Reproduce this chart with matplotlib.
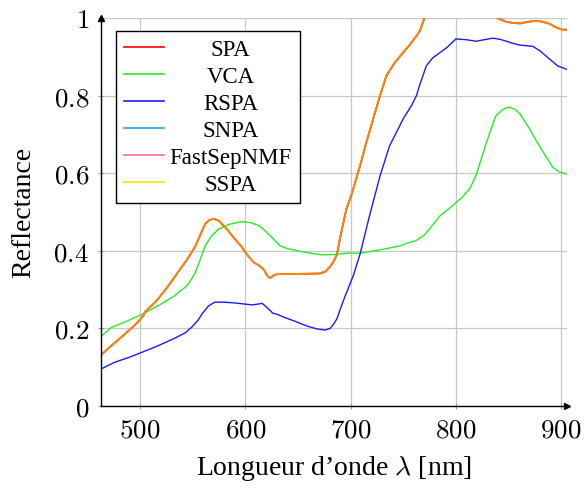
import matplotlib
matplotlib.use("Agg")
import matplotlib.pyplot as plt
from matplotlib.ticker import FuncFormatter, MultipleLocator

# === Data ===
# SPA, SNPA, FastSepNMF and SSPA give the same spectrum
wl_spa = [464, 470, 476, 482, 490, 497, 503, 505, 515, 525, 533, 545, 552, 558,
          562, 566, 570, 575, 580, 584, 590, 596, 600, 604, 608, 614, 618, 621,
          623.5, 627, 631, 650, 671, 676, 680, 684, 687, 690, 693, 696, 701, 709,
          715, 721.5, 728, 734, 742, 750, 756, 762.6, 766, 770, 775, 790, 805,
          820, 832, 840, 848, 855, 861, 868, 876, 883, 889, 895, 901, 905]
refl_spa = [0.133, 0.148, 0.162, 0.176, 0.195, 0.213, 0.231, 0.243, 0.268, 0.302,
            0.332, 0.378, 0.408, 0.445, 0.469, 0.479, 0.482, 0.477, 0.462, 0.451,
            0.430, 0.412, 0.396, 0.382, 0.370, 0.360, 0.350, 0.335, 0.329, 0.336,
            0.340, 0.340, 0.341, 0.346, 0.357, 0.372, 0.390, 0.432, 0.470, 0.507,
            0.545, 0.619, 0.679, 0.740, 0.800, 0.851, 0.885, 0.911, 0.930, 0.954,
            0.968, 0.999, 1.03, 1.06, 1.07, 1.05, 1.02, 0.999, 0.990, 0.987,
            0.986, 0.990, 0.993, 0.990, 0.985, 0.976, 0.970, 0.970]
refl_snpa = refl_spa
refl_fastsep = refl_spa
refl_sspa = refl_spa

wl_vca = [464, 473, 485, 503, 520, 533, 545, 552, 557, 562, 568, 575, 585, 597,
          605, 612, 617, 625, 633, 640, 649, 660, 674, 685, 699, 709, 728, 745,
          763, 770, 775, 785, 797, 805, 813, 819, 824, 829, 838, 845, 851, 856,
          861, 870, 876, 883, 892, 898, 905]
refl_vca = [0.181, 0.202, 0.215, 0.237, 0.262, 0.284, 0.310, 0.340, 0.375, 0.413,
            0.438, 0.456, 0.468, 0.475, 0.472, 0.466, 0.456, 0.435, 0.413, 0.405,
            0.400, 0.394, 0.389, 0.390, 0.394, 0.393, 0.402, 0.411, 0.427, 0.440,
            0.456, 0.490, 0.516, 0.535, 0.559, 0.593, 0.635, 0.679, 0.748, 0.765,
            0.770, 0.765, 0.752, 0.714, 0.685, 0.654, 0.615, 0.603, 0.598]

wl_rspa = [464, 476, 490, 503, 515, 533, 543, 549, 555, 559, 565, 571, 580, 590,
           600, 606, 612, 616, 620, 626, 631, 637, 648, 658, 668, 676, 681, 684,
           687, 691, 695, 702.5, 709, 718, 728, 737, 750, 758, 762.6, 766, 772,
           778, 785, 792, 800, 810, 819, 827, 835, 842, 848, 855, 861, 873, 880,
           889, 897, 905]
refl_rspa = [0.096, 0.112, 0.125, 0.139, 0.152, 0.174, 0.188, 0.202, 0.220, 0.237,
             0.257, 0.267, 0.267, 0.265, 0.262, 0.260, 0.262, 0.264, 0.255, 0.239,
             0.235, 0.228, 0.217, 0.206, 0.198, 0.195, 0.200, 0.211, 0.224, 0.255,
             0.284, 0.335, 0.391, 0.490, 0.593, 0.670, 0.740, 0.775, 0.800, 0.830,
             0.877, 0.897, 0.911, 0.925, 0.946, 0.944, 0.940, 0.944, 0.948, 0.945,
             0.940, 0.934, 0.930, 0.927, 0.915, 0.894, 0.876, 0.868]

# === Fonts ===
plt.rcParams["font.family"] = ["Liberation Serif", "DejaVu Serif"]
plt.rcParams["mathtext.fontset"] = "cm"

fig = plt.figure(figsize=(5.84, 4.89), dpi=100)
ax = fig.add_axes([101 / 584, 1 - 406.7 / 489, 466 / 584, 387.7 / 489])

lw = 1.0
# the four identical spectra overlap; red under a half-transparent yellow gives the orange look
ax.plot(wl_spa, refl_spa, color="#ff0000", lw=1.3, label="SPA", zorder=2.4)
ax.plot(wl_vca, refl_vca, color="#22ee22", lw=lw, label="VCA", zorder=2)
ax.plot(wl_rspa, refl_rspa, color="#1a1aff", lw=lw, label="RSPA", zorder=2)
ax.plot(wl_spa, refl_snpa, color="#1ea5df", lw=lw, label="SNPA", zorder=2.1)
ax.plot(wl_spa, refl_fastsep, color="#ff66bb", lw=lw, label="FastSepNMF", zorder=2.2)
ax.plot(wl_spa, refl_sspa, color="#ffdd00", lw=1.3, alpha=0.62, label="SSPA", zorder=2.5)

ax.set_xlim(463, 905.5)
ax.set_ylim(0, 1)
ax.xaxis.set_major_locator(MultipleLocator(100))
ax.yaxis.set_major_locator(MultipleLocator(0.2))
ax.xaxis.set_major_formatter(FuncFormatter(lambda v, p: f"${v:g}$"))
ax.yaxis.set_major_formatter(FuncFormatter(lambda v, p: f"${v:g}$"))
ax.tick_params(labelsize=19.5, direction="inout", length=5, color="#a0a0a0", width=0.8)
ax.tick_params(axis="y", pad=6)
ax.tick_params(axis="x", pad=6)

ax.grid(True, color="#c8c8c8", lw=0.9)
ax.set_axisbelow(True)
for side in ["top", "right"]:
    ax.spines[side].set_visible(False)
for side in ["left", "bottom"]:
    ax.spines[side].set_linewidth(1.0)
    ax.spines[side].set_zorder(5)
# arrow heads on the axis lines
ax.plot(1, 0, ">k", ms=5, transform=ax.transAxes, clip_on=False, zorder=6)
ax.plot(0, 1, "^k", ms=5, transform=ax.transAxes, clip_on=False, zorder=6)

ax.set_xlabel(r"Longueur d’onde $\lambda$ [nm]", fontsize=20)
ax.set_ylabel("Reflectance", fontsize=20)
ax.xaxis.set_label_coords(0.5, -0.122)
ax.yaxis.set_label_coords(-0.14, 0.5)

leg = ax.legend(loc="upper left", bbox_to_anchor=(0.0315, 0.967), borderaxespad=0,
                fontsize=16.5, fancybox=False, edgecolor="black", framealpha=1,
                handlelength=1.75, handletextpad=0.25, borderpad=0.35, labelspacing=0.26)
leg.get_frame().set_linewidth(1.0)
for h in leg.legend_handles:
    h.set_alpha(1)
    h.set_linewidth(1.2)

# centre the legend texts in their column, like pgfplots does
fig.canvas.draw()
texts = leg.get_texts()
widths = [t.get_window_extent().width for t in texts]
for t, w in zip(texts, widths):
    t.set_x((max(widths) - w) / 2)

plt.savefig("out.png", dpi=100)
